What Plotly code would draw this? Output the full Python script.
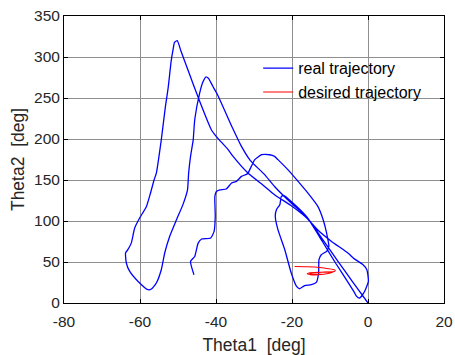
import plotly.graph_objects as go

# Joint-space trajectory of the two-link arm (degrees)
real_theta1 = [
    -45.8, -46.7, -45.6, -44.7, -43.8, -41.4, -40.5, -40.2, -40.3, -39.9,
    -39.0, -37.3, -35.9, -34.6, -33.3, -31.7, -30.7, -29.8, -28.0, -25.9,
    -24.6, -23.7, -21.1, -18.4, -15.8, -13.2, -11.8, -10.9, -10.3, -10.9,
    -12.3, -12.9, -13.0, -13.6, -14.9, -16.7, -18.0, -18.8, -20.2, -21.9,
    -23.7, -24.4, -24.1, -23.2, -22.8, -22.1, -20.2, -16.2, -12.0, -8.5,
    -5.5, -3.6, -3.0, -2.2, -0.9, 0.1, -0.3, -1.3, -3.5, -5.3,
    -9.6, -13.0, -16.2, -20.0, -24.6, -27.2, -31.6, -35.5, -36.8, -39.9,
    -41.2, -44.3, -47.4, -49.2, -50.2, -50.9, -51.3, -51.8, -52.6, -53.3,
    -54.4, -55.7, -56.3, -57.3, -58.3, -60.1, -61.4, -62.3, -63.2, -63.8,
    -63.6, -62.7, -60.5, -57.9, -57.0, -55.7, -54.4, -53.5, -52.2, -50.4,
    -48.7, -47.5, -47.2, -46.7, -46.0, -45.6, -44.3, -43.4, -42.7, -42.0,
    -40.8, -39.6, -35.8, -33.3, -31.0, -27.2, -24.6, -20.0, -16.2, -12.0,
    -8.0, -4.0, 0.0,
]
real_theta2 = [
    34.5, 50.7, 56.8, 73.0, 78.0, 79.3, 87.3, 105.6, 130.0, 136.0,
    138.0, 139.0, 146.3, 148.3, 154.4, 157.7, 166.6, 174.8, 180.8, 180.8,
    178.8, 174.8, 162.6, 148.3, 134.0, 117.8, 101.6, 85.4, 69.0, 63.0,
    58.9, 52.8, 36.6, 25.1, 22.3, 21.1, 17.4, 20.2, 36.6, 65.0,
    89.4, 105.6, 113.8, 119.9, 130.0, 130.9, 123.9, 105.6, 75.0, 48.5,
    27.0, 13.0, 8.1, 6.1, 14.1, 26.3, 40.6, 46.7, 53.5, 61.0,
    75.1, 88.0, 104.0, 118.0, 132.0, 142.2, 158.5, 178.8, 187.0, 203.0,
    211.0, 245.9, 284.5, 307.0, 320.0, 318.0, 309.0, 295.0, 262.0, 240.0,
    199.0, 158.5, 150.0, 133.0, 117.8, 103.6, 91.4, 73.0, 65.0, 61.0,
    48.8, 38.5, 26.3, 16.2, 17.0, 24.4, 40.6, 61.0, 81.2, 101.6,
    120.0, 138.0, 158.5, 178.8, 199.0, 223.5, 256.0, 270.0, 275.6, 274.0,
    264.0, 254.0, 215.0, 191.0, 174.0, 156.5, 142.0, 121.0, 105.6, 78.0,
    51.5, 25.5, 0.0,
]

desired_theta1 = [
    -19.3, -16.5, -14.0, -10.5, -8.8, -8.6, -9.4, -13.0, -15.3, -16.0,
    -15.2, -13.0, -10.5, -9.3, -11.0, -14.0, -15.3, -14.6, -12.5,
]
desired_theta2 = [
    44.6, 44.2, 43.9, 41.8, 40.4, 39.2, 38.0, 37.4, 36.8, 35.6,
    34.4, 34.6, 36.0, 37.4, 37.8, 37.2, 36.0, 35.0, 35.2,
]

x_ticks = [-80, -60, -40, -20, 0, 20]
y_ticks = [0, 50, 100, 150, 200, 250, 300, 350]

FONT = "Liberation Sans, Arial, sans-serif"
TEXT = "#262626"

fig = go.Figure()
fig.add_trace(go.Scatter(
    x=real_theta1, y=real_theta2, mode="lines", name="real trajectory",
    line=dict(color="#0000ff", width=1.3, shape="spline", smoothing=0.5),
))
fig.add_trace(go.Scatter(
    x=desired_theta1, y=desired_theta2, mode="lines", name="desired trajectory",
    line=dict(color="#ff0000", width=1.1, shape="spline", smoothing=0.4),
))

axis_common = dict(
    showline=True, linecolor="black", linewidth=1, mirror="ticks",
    ticks="inside", ticklen=4, tickcolor="black", tickwidth=1,
    showgrid=True, gridcolor="#8f8f8f", gridwidth=1, zeroline=False,
    automargin=False,
    tickfont=dict(family=FONT, size=15.5, color=TEXT),
)

fig.update_layout(
    width=455, height=355, autosize=False,
    margin=dict(l=64, r=11, t=16, b=52),
    paper_bgcolor="white", plot_bgcolor="white",
    font=dict(family=FONT, color=TEXT),
    xaxis=dict(
        range=[-80, 20], tickvals=x_ticks, ticktext=[str(v) for v in x_ticks],
        ticklabelstandoff=4,
        title=dict(text="Theta1\u00a0\u00a0[deg]", font=dict(family=FONT, size=17.5, color=TEXT), standoff=14),
        **axis_common,
    ),
    yaxis=dict(
        range=[0, 350], tickvals=y_ticks, ticktext=[str(v) for v in y_ticks],
        title=dict(text="Theta2\u00a0\u00a0[deg]", font=dict(family=FONT, size=17.5, color=TEXT), standoff=4),
        **axis_common,
    ),
    legend=dict(
        x=0.511, y=0.877, xanchor="left", yanchor="top",
        bgcolor="rgba(0,0,0,0)", borderwidth=0,
        font=dict(family=FONT, size=16, color="black"),
        itemwidth=30, tracegroupgap=0,
    ),
    showlegend=True,
)

fig.write_html("out.html")
